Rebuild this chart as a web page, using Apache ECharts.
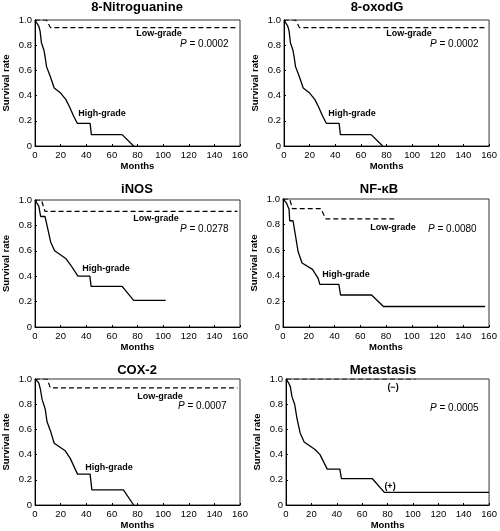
<!DOCTYPE html>
<html>
<head>
<meta charset="utf-8">
<script src="https://cdn.jsdelivr.net/npm/echarts@6/dist/echarts.min.js"></script>
<style>html,body{margin:0;padding:0;background:#fff}#c{width:500px;height:531px}</style>
</head>
<body>
<div id="c"></div>
<script>
// ---- Data (months, survival rate) ----
const panelTitles = ['8-Nitroguanine', '8-oxodG', 'iNOS', 'NF-\u03baB', 'COX-2', 'Metastasis'];
const pValues = ['0.0002', '0.0002', '0.0278', '0.0080', '0.0007', '0.0005'];
const highLabels = ['High-grade', 'High-grade', 'High-grade', 'High-grade', 'High-grade', '(+)'];
const lowLabels = ['Low-grade', 'Low-grade', 'Low-grade', 'Low-grade', 'Low-grade', '(\u2212)'];
const xTicks = [0, 20, 40, 60, 80, 100, 120, 140, 160];
const yTicks = [0, 0.2, 0.4, 0.6, 0.8, 1.0];

const nitroHigh = [[0,1],[3,0.95],[4,0.91],[5,0.82],[7,0.76],[8,0.7],[9,0.63],[12,0.55],[15,0.46],[20,0.42],[24,0.37],[27,0.31],[30,0.24],[33,0.18],[43,0.18],[44,0.09],[68,0.09],[77,0]];
const nitroLow = [[0,1],[9,1],[12,0.94],[157,0.94]];
const oxoHigh = [[0,1],[3,0.95],[4,0.91],[5,0.82],[7,0.76],[8,0.7],[9,0.63],[12,0.55],[15,0.46],[20,0.42],[24,0.37],[27,0.31],[30,0.24],[33,0.18],[43,0.18],[44,0.09],[68,0.09],[77,0]];
const oxoLow = [[0,1],[9,1],[12,0.94],[157,0.94]];
const inosHigh = [[0,1],[3,0.95],[4.4,0.87],[7.8,0.87],[9.6,0.79],[12.2,0.67],[15.3,0.6],[24,0.54],[27.7,0.49],[33.5,0.4],[42.8,0.4],[43.8,0.32],[68,0.32],[77,0.21],[102,0.21]];
const inosLow = [[0,1],[5,1],[7.8,0.91],[158,0.91]];
const nfkbHigh = [[0,1],[2.6,0.97],[4.7,0.92],[5.2,0.83],[7.8,0.83],[9.6,0.72],[11.7,0.59],[14.8,0.5],[22.9,0.45],[27.3,0.38],[28.6,0.333],[43.4,0.333],[44.7,0.25],[68.8,0.25],[78,0.16],[157,0.16]];
const nfkbLow = [[0,1],[5.2,1],[7.3,0.925],[29.4,0.925],[33.2,0.845],[88,0.845]];
const coxHigh = [[0,1],[2.9,0.97],[4.2,0.92],[5.5,0.84],[8,0.76],[9.4,0.66],[12,0.59],[15,0.49],[23.6,0.43],[27.5,0.37],[33.2,0.245],[43,0.245],[44.4,0.12],[69,0.12],[77,0]];
const coxLow = [[0,1],[9.4,1],[12,0.93],[158,0.93]];
const metaPos = [[0,1],[2,0.97],[3.4,0.94],[4.7,0.86],[6.8,0.8],[8.6,0.69],[11.2,0.57],[14.3,0.5],[22.9,0.44],[26.8,0.4],[32.5,0.285],[42.4,0.285],[43.7,0.21],[67.9,0.21],[77.5,0.1],[160,0.1]];
const metaNeg = [[0,1],[102,1]];

const highSeries = [nitroHigh, oxoHigh, inosHigh, nfkbHigh, coxHigh, metaPos];
const lowSeries = [nitroLow, oxoLow, inosLow, nfkbLow, coxLow, metaNeg];

// ---- Layout ----
const grids = [
  {left:34, top:20, width:206, height:126},
  {left:284, top:20, width:206, height:126},
  {left:34, top:200, width:206, height:127},
  {left:283, top:199, width:206, height:128},
  {left:35, top:379, width:205, height:127},
  {left:286, top:379, width:205, height:127}
];
const titlePos = [[137,7],[377,7],[137,189],[379,189],[137,370],[383,370]];
const lowPos = [[159,34],[409,34],[156,219],[393,228],[160,397],[393,388]];
const pPos = [[180,44],[430,44],[180,229],[428,229],[178,406],[430,408]];
const highPos = [[102,114],[352,114],[106,269],[346,275],[109,468],[390,487]];

const FONT = '"Liberation Sans", Arial, Helvetica, sans-serif';
const xAxes = [], yAxes = [], series = [], graphics = [];
grids.forEach((g, i) => {
  g.show = true; g.borderColor = '#333'; g.borderWidth = 1; g.backgroundColor = 'transparent';
  xAxes.push({
    gridIndex: i, type: 'value', min: xTicks[0], max: xTicks[xTicks.length-1], interval: 20,
    name: 'Months', nameLocation: 'middle', nameGap: 15,
    nameTextStyle: {fontFamily: FONT, fontSize: 9.5, fontWeight: 'bold', color: '#000'},
    axisLine: {lineStyle: {color: '#000', width: 1}},
    axisTick: {inside: true, length: 2, lineStyle: {color: '#000'}},
    axisLabel: {fontFamily: FONT, fontSize: 9.5, color: '#000', margin: 4},
    splitLine: {show: false}
  });
  yAxes.push({
    gridIndex: i, type: 'value', min: yTicks[0], max: yTicks[yTicks.length-1], interval: 0.2,
    name: 'Survival rate', nameLocation: 'middle', nameGap: 24,
    nameTextStyle: {fontFamily: FONT, fontSize: 9.5, fontWeight: 'bold', color: '#000'},
    axisLine: {lineStyle: {color: '#000', width: 1}},
    axisTick: {inside: true, length: 2, lineStyle: {color: '#000'}},
    axisLabel: {fontFamily: FONT, fontSize: 9.5, color: '#000', margin: 3,
      formatter: v => v === 0 ? '0' : v.toFixed(1)},
    splitLine: {show: false}
  });
  series.push({
    type: 'line', xAxisIndex: i, yAxisIndex: i, data: lowSeries[i], symbol: 'none',
    lineStyle: {color: '#000', width: 1.2, type: [5, 3]}, animation: false, z: 3
  });
  series.push({
    type: 'line', xAxisIndex: i, yAxisIndex: i, data: highSeries[i], symbol: 'none',
    lineStyle: {color: '#000', width: 1.3}, animation: false, z: 4
  });
  graphics.push({type: 'text', x: titlePos[i][0], y: titlePos[i][1],
    style: {text: panelTitles[i], fontFamily: FONT, fontSize: 13, fontWeight: 'bold', fill: '#000', align: 'center', verticalAlign: 'middle'}});
  graphics.push({type: 'text', x: lowPos[i][0], y: lowPos[i][1],
    style: {text: lowLabels[i], fontFamily: FONT, fontSize: 9, fontWeight: 'bold', fill: '#000', align: 'center', verticalAlign: 'middle'}});
  graphics.push({type: 'text', x: highPos[i][0], y: highPos[i][1],
    style: {text: highLabels[i], fontFamily: FONT, fontSize: 9, fontWeight: 'bold', fill: '#000', align: 'center', verticalAlign: 'middle'}});
  graphics.push({type: 'text', x: pPos[i][0], y: pPos[i][1],
    style: {text: '{i|P} = ' + pValues[i], fontFamily: FONT, fontSize: 10, fill: '#000', align: 'left', verticalAlign: 'middle',
      rich: {i: {fontFamily: FONT, fontSize: 10, fontStyle: 'italic', fill: '#000'}}}});
});

const chart = echarts.init(document.getElementById('c'), null, {renderer: 'canvas'});
chart.setOption({
  animation: false,
  backgroundColor: '#fff',
  grid: grids, xAxis: xAxes, yAxis: yAxes, series: series, graphic: graphics
});
</script>
</body>
</html>
